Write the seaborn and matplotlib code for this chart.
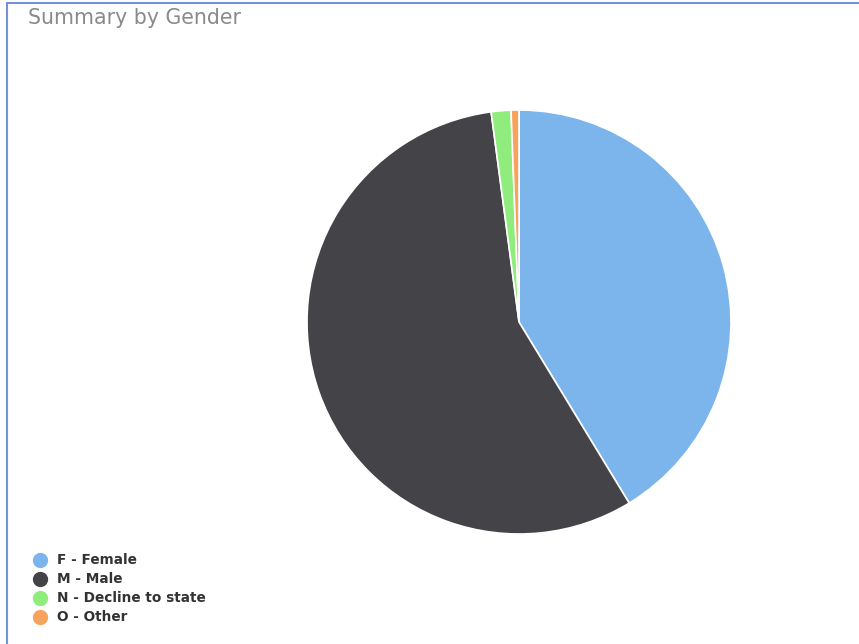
import matplotlib
matplotlib.use("Agg")
import matplotlib.pyplot as plt
from matplotlib.lines import Line2D
import seaborn as sns

categories = ["F - Female", "M - Male", "N - Decline to state", "O - Other"]
values = [41.3, 56.6, 1.5, 0.6]
colors = ["#7cb5ec", "#434348", "#90ed7d", "#f7a35c"]

sns.set_theme(style="white")
plt.rcParams['font.family'] = ['DejaVu Sans']

W, H = 859, 644
fig = plt.figure(figsize=(W / 100, H / 100), dpi=100)
fig.patch.set_facecolor("white")

cx, cy, r = 519, 322, 212
ax = fig.add_axes([(cx - r) / W, (H - cy - r) / H, 2 * r / W, 2 * r / H])
ax.pie(values, colors=colors, startangle=90, counterclock=False,
       wedgeprops=dict(edgecolor="white", linewidth=1.2), radius=1.0)
ax.set_xlim(-1, 1)
ax.set_ylim(-1, 1)
ax.set_aspect("equal")
ax.axis("off")

# title
fig.text(28 / W, 1 - 18 / H, "Summary by Gender", fontsize=14.8, color="#8a8a8a",
         ha="left", va="center")

# legend
ys = [560, 579, 598, 617]
for cat, col, y in zip(categories, colors, ys):
    fig.add_artist(Line2D([40 / W], [1 - y / H], marker="o", markersize=10,
                          color=col, linestyle="none", transform=fig.transFigure))
    fig.text(57 / W, 1 - y / H, cat, fontsize=9.8, fontweight="bold", color="#333333",
             ha="left", va="center")

# border
fig.add_artist(Line2D([6.5 / W, 6.5 / W], [0, 1 - 2.5 / H], color="#7393d4",
                      linewidth=1.5, transform=fig.transFigure))
fig.add_artist(Line2D([6.5 / W, 1], [1 - 2.5 / H, 1 - 2.5 / H], color="#7393d4",
                      linewidth=1.5, transform=fig.transFigure))

fig.savefig("out.png", dpi=100, facecolor="white")
